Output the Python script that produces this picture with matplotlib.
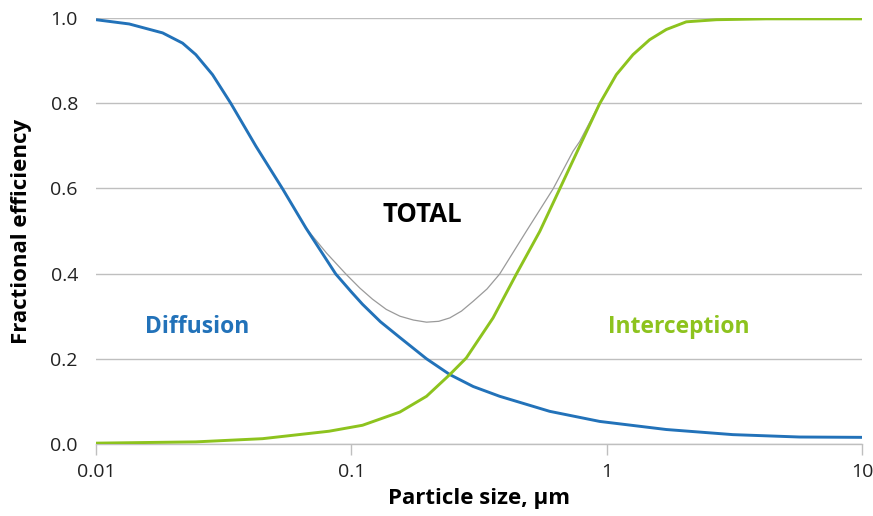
import matplotlib
matplotlib.use("Agg")
import matplotlib.pyplot as plt
from matplotlib.ticker import FixedLocator, NullLocator

# ---- data ----
diff_x = [0.01, 0.01349, 0.01824, 0.02183, 0.0246, 0.0286, 0.0337, 0.0423, 0.0538,
          0.0664, 0.0869, 0.1, 0.1106, 0.13, 0.1549, 0.197, 0.243, 0.30, 0.381, 0.598,
          0.939, 1.712, 3.12, 5.69, 10]
diff_y = [0.996, 0.986, 0.965, 0.941, 0.914, 0.867, 0.80, 0.699, 0.599,
          0.507, 0.399, 0.357, 0.328, 0.287, 0.250, 0.200, 0.163, 0.135, 0.112, 0.0767,
          0.053, 0.034, 0.022, 0.0164, 0.0156]

int_x = [0.01, 0.0246, 0.0449, 0.0818, 0.1106, 0.1549, 0.197, 0.243, 0.282, 0.359,
         0.443, 0.547, 0.655, 0.784, 0.939, 1.091, 1.268, 1.473, 1.712, 2.05, 2.69,
         4.22, 10]
int_y = [0.002, 0.005, 0.0125, 0.030, 0.044, 0.075, 0.112, 0.163, 0.202, 0.296,
         0.399, 0.499, 0.599, 0.699, 0.799, 0.867, 0.914, 0.949, 0.973, 0.991, 0.996,
         0.998, 0.998]

tot_x = [0.01, 0.01349, 0.01824, 0.02183, 0.0246, 0.0286, 0.0337, 0.0423, 0.0538,
         0.0664, 0.08, 0.0952, 0.108, 0.121, 0.137, 0.155, 0.175, 0.197, 0.22, 0.243,
         0.27, 0.300, 0.34, 0.381, 0.484, 0.617, 0.738, 0.784, 0.939, 1.091, 1.268,
         1.473, 1.712, 2.05, 2.69, 4.22, 10]
tot_y = [0.996, 0.986, 0.965, 0.941, 0.914, 0.867, 0.80, 0.699, 0.599,
         0.507, 0.448, 0.399, 0.366, 0.340, 0.316, 0.300, 0.291, 0.286, 0.288, 0.296,
         0.312, 0.335, 0.364, 0.399, 0.499, 0.599, 0.687, 0.71, 0.80, 0.867, 0.914,
         0.949, 0.973, 0.991, 0.996, 0.998, 0.998]

x_ticks = [0.01, 0.1, 1, 10]
x_tick_labels = ["0.01", "0.1", "1", "10"]
y_ticks = [0.0, 0.2, 0.4, 0.6, 0.8, 1.0]
y_tick_labels = ["0.0", "0.2", "0.4", "0.6", "0.8", "1.0"]

BLUE = "#2272B9"
GREEN = "#8DC31E"
GRAY = "#9A9A9A"
GRID = "#BFBFBF"

plt.rcParams['font.family'] = ['Open Sans', 'DejaVu Sans']

fig = plt.figure(figsize=(8.73, 5.16), dpi=100)
ax = fig.add_axes([96/873, 1-444/516, (862-96)/873, (444-18)/516])

ax.plot(tot_x, tot_y, color=GRAY, lw=0.9, zorder=3)
ax.plot(diff_x, diff_y, color=BLUE, lw=2.1, zorder=4, solid_capstyle='butt')
ax.plot(int_x, int_y, color=GREEN, lw=2.1, zorder=5, solid_capstyle='butt')

ax.set_xscale('log')
ax.set_xlim(0.01, 10)
ax.set_ylim(0, 1.0)
ax.xaxis.set_major_locator(FixedLocator(x_ticks))
ax.xaxis.set_minor_locator(NullLocator())
ax.set_xticks(x_ticks)
ax.set_xticklabels(x_tick_labels)
ax.set_yticks(y_ticks)
ax.set_yticklabels(y_tick_labels)

ax.yaxis.grid(True, color=GRID, lw=1.0)
ax.set_axisbelow(True)
for s in ['top', 'right', 'left']:
    ax.spines[s].set_visible(False)
ax.spines['bottom'].set_color(GRID)
ax.spines['bottom'].set_linewidth(1.0)
ax.tick_params(axis='x', length=8, width=1.0, color=GRID, labelsize=14,
               labelcolor='#222222', pad=6)
ax.tick_params(axis='y', length=0, labelsize=14, labelcolor='#222222', pad=13)

ax.set_xlabel("Particle size, µm", fontsize=16, fontweight='bold', labelpad=5)
ax.set_ylabel("Fractional efficiency", fontsize=16, fontweight='bold', labelpad=13)

ax.text(0.0248, 0.275, "Diffusion", color=BLUE, fontsize=16.5, fontweight='bold',
        ha='center', va='center')
ax.text(1.915, 0.275, "Interception", color=GREEN, fontsize=16.5, fontweight='bold',
        ha='center', va='center')
ax.text(0.189, 0.538, "TOTAL", color='black', fontsize=18.5, fontweight='bold',
        ha='center', va='center')

fig.savefig("out.png", dpi=100)
